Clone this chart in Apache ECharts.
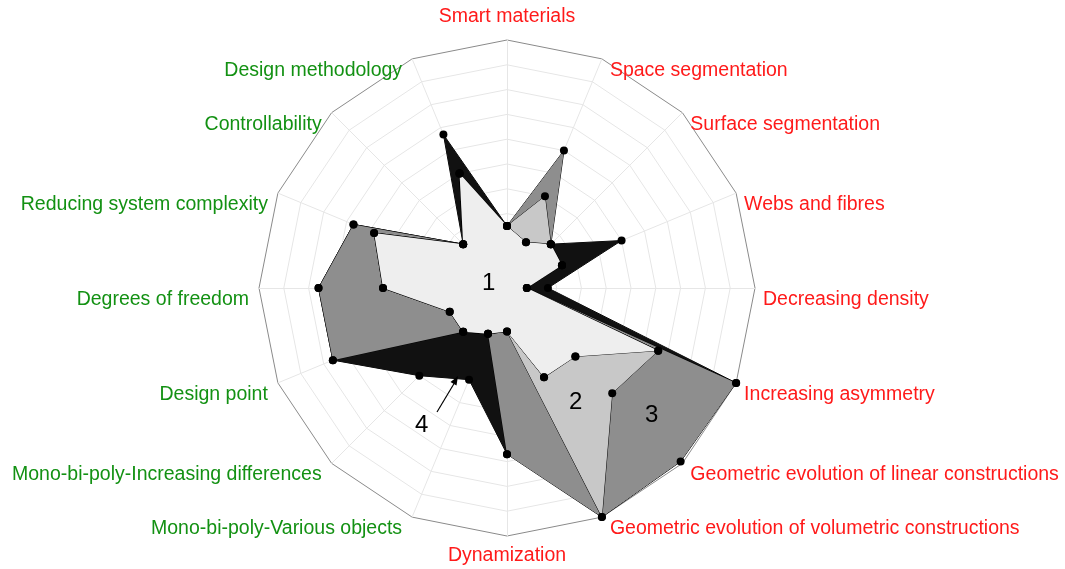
<!DOCTYPE html>
<html>
<head>
<meta charset="utf-8">
<script src="https://cdn.jsdelivr.net/npm/echarts@6/dist/echarts.min.js"></script>
<style>
  html, body { margin: 0; padding: 0; background: #fff; }
  #main { width: 1065px; height: 569px; }
</style>
</head>
<body>
<div id="main"></div>
<script>
// axes, listed clockwise starting at the top
const categories = [
  'Smart materials', 'Space segmentation', 'Surface segmentation', 'Webs and fibres',
  'Decreasing density', 'Increasing asymmetry', 'Geometric evolution of linear constructions',
  'Geometric evolution of volumetric constructions', 'Dynamization', 'Mono-bi-poly-Various objects',
  'Mono-bi-poly-Increasing differences', 'Design point', 'Degrees of freedom',
  'Reducing system complexity', 'Controllability', 'Design methodology'
];
const maxValue = 10;

// same axis order as categories
const values4 = [2.5, 2.0, 2.5, 5.0, 1.65, 10, 3.9, 3.9, 6.7, 4.0, 5.0, 7.6, 7.6, 6.7, 2.5, 6.7];
const values3 = [2.5, 6.0, 2.5, 2.4, 0.8, 10, 9.9, 10, 6.7, 2.0, 2.5, 7.6, 7.6, 6.7, 2.5, 5.0];
const values2 = [2.5, 4.0, 2.5, 2.4, 0.8, 6.6, 6.0, 10, 1.75, 2.0, 2.5, 2.5, 5.0, 5.8, 2.5, 5.0];
const values1 = [2.5, 2.0, 2.5, 2.4, 0.8, 6.6, 3.9, 3.9, 1.75, 2.0, 2.5, 2.5, 5.0, 5.8, 2.5, 5.0];

const seriesNames = ['4', '3', '2', '1'];
const fills = ['#111111', '#8e8e8e', '#c8c8c8', '#eeeeee'];

// echarts lays indicators out counter-clockwise, so flip the order after the first one
const order = [0];
for (let i = categories.length - 1; i > 0; i--) order.push(i);
const reorder = arr => order.map(i => arr[i]);

function sideOf(name) {
  let i = categories.indexOf(name);
  if (i === 0) return 't';
  if (i === 8) return 'b';
  return i < 8 ? 'r' : 'l';
}

let chart = echarts.init(document.getElementById('main'));

const nameFont = { fontFamily: 'Liberation Sans', fontSize: 19.5 };

let option = {
  animation: false,
  radar: {
    center: [507, 288],
    radius: 248,
    startAngle: 90,
    shape: 'polygon',
    splitNumber: 10,
    nameGap: 0,
    indicator: order.map(i => ({
      name: categories[i],
      max: maxValue,
      min: 0,
      color: i <= 8 ? '#ff1a1a' : '#139113'
    })),
    axisName: {
      ...nameFont,
      verticalAlign: 'middle',
      formatter: (name) => '{' + sideOf(name) + '|' + name + '}',
      rich: {
        t: { ...nameFont, padding: [0, 0, 46, 0] },
        b: { ...nameFont, padding: [40, 0, 0, 0] },
        r: { ...nameFont, padding: [23, 0, 0, 8] },
        l: { ...nameFont, padding: [23, 10, 0, 0] }
      }
    },
    axisLine: { lineStyle: { color: '#e6e6e6', width: 1 } },
    splitLine: {
      lineStyle: {
        color: ['#e6e6e6', '#e6e6e6', '#e6e6e6', '#e6e6e6', '#e6e6e6', '#e6e6e6',
                '#e6e6e6', '#e6e6e6', '#e6e6e6', '#e6e6e6', '#8a8a8a'],
        width: 1
      }
    },
    splitArea: { show: false }
  },
  series: [{
    type: 'radar',
    symbol: 'circle',
    symbolSize: 8,
    itemStyle: { color: '#000' },
    lineStyle: { color: '#000', width: 1 },
    data: [values4, values3, values2, values1].map((v, k) => ({
      name: seriesNames[k],
      value: reorder(v),
      areaStyle: { color: fills[k], opacity: 1 }
    }))
  }],
  // region numbers and the arrow pointing at polygon 4
  graphic: [
    { type: 'text', z: 100, left: 482, top: 271, style: { text: '1', font: '24px Liberation Sans', fill: '#000' } },
    { type: 'text', z: 100, left: 569, top: 390, style: { text: '2', font: '24px Liberation Sans', fill: '#000' } },
    { type: 'text', z: 100, left: 645, top: 403, style: { text: '3', font: '24px Liberation Sans', fill: '#000' } },
    { type: 'text', z: 100, left: 415, top: 413, style: { text: '4', font: '24px Liberation Sans', fill: '#000' } },
    { type: 'line', z: 100, shape: { x1: 437, y1: 412, x2: 455, y2: 382 }, style: { stroke: '#000', lineWidth: 1.2 } },
    { type: 'polygon', z: 100, shape: { points: [[458, 376], [456.5, 385.6], [450.5, 382]] }, style: { fill: '#000' } }
  ]
};

option && chart.setOption(option);
</script>
</body>
</html>
